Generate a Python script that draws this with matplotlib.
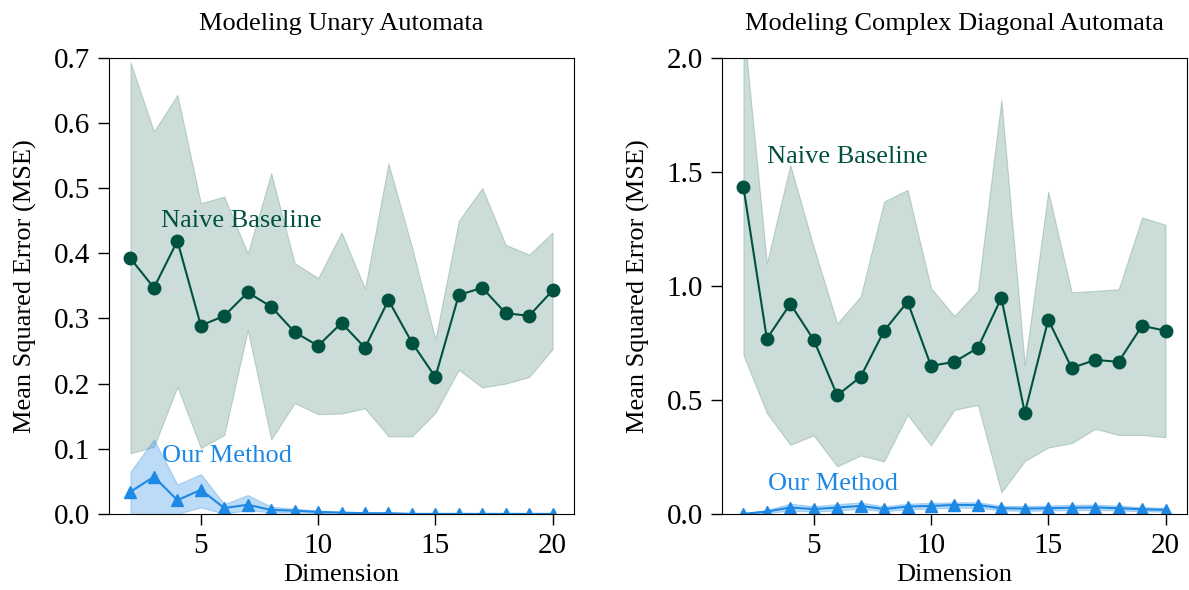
import numpy as np
import matplotlib
matplotlib.use("Agg")
import matplotlib.pyplot as plt

plt.rcParams['font.family'] = ['Liberation Serif', 'DejaVu Serif']
plt.rcParams['mathtext.fontset'] = 'stix'

dims = list(range(2, 21))

# Unary automata
unary_base = [0.392, 0.347, 0.419, 0.289, 0.304, 0.340, 0.318, 0.279, 0.258, 0.293,
              0.255, 0.328, 0.263, 0.210, 0.336, 0.347, 0.308, 0.304, 0.343]
unary_base_hi = [0.693, 0.587, 0.643, 0.477, 0.487, 0.400, 0.523, 0.385, 0.362, 0.432,
                 0.346, 0.538, 0.410, 0.268, 0.450, 0.500, 0.413, 0.398, 0.432]
unary_base_lo = [0.093, 0.103, 0.195, 0.101, 0.121, 0.282, 0.114, 0.170, 0.153, 0.154,
                 0.162, 0.119, 0.119, 0.155, 0.221, 0.194, 0.200, 0.210, 0.253]
unary_ours = [0.034, 0.057, 0.021, 0.037, 0.009, 0.014, 0.006, 0.005, 0.003, 0.002,
              0.001, 0.001, 0.000, 0.000, 0.000, 0.000, 0.000, 0.000, 0.000]
unary_ours_hi = [0.065, 0.114, 0.045, 0.061, 0.015, 0.029, 0.011, 0.008, 0.005, 0.003,
                 0.002, 0.002, 0.001, 0.001, 0.001, 0.001, 0.001, 0.001, 0.001]
unary_ours_lo = [0.000, 0.000, 0.000, 0.010, 0.000, 0.006, 0.002, 0.002, 0.001, 0.001,
                 0.000, 0.000, 0.000, 0.000, 0.000, 0.000, 0.000, 0.000, 0.000]

# Complex diagonal automata
diag_base = [1.434, 0.768, 0.921, 0.763, 0.520, 0.601, 0.803, 0.930, 0.649, 0.667,
             0.728, 0.947, 0.443, 0.851, 0.640, 0.675, 0.667, 0.825, 0.803]
diag_base_hi = [2.15, 1.10, 1.53, 1.17, 0.836, 0.953, 1.37, 1.421, 0.990, 0.868,
                0.980, 1.816, 0.653, 1.414, 0.972, 0.978, 0.985, 1.300, 1.268]
diag_base_lo = [0.697, 0.442, 0.303, 0.344, 0.208, 0.256, 0.230, 0.434, 0.300, 0.456,
                0.478, 0.094, 0.232, 0.291, 0.310, 0.373, 0.346, 0.346, 0.336]
diag_ours = [0.000, 0.010, 0.028, 0.021, 0.028, 0.035, 0.021, 0.032, 0.035, 0.039,
             0.039, 0.025, 0.023, 0.025, 0.027, 0.028, 0.025, 0.020, 0.018]
diag_ours_hi = [0.002, 0.018, 0.045, 0.034, 0.043, 0.050, 0.033, 0.045, 0.048, 0.051,
                0.051, 0.036, 0.034, 0.037, 0.040, 0.041, 0.036, 0.030, 0.027]
diag_ours_lo = [0.000, 0.004, 0.014, 0.010, 0.015, 0.022, 0.011, 0.020, 0.023, 0.027,
                0.027, 0.015, 0.013, 0.015, 0.016, 0.017, 0.015, 0.011, 0.010]

green = '#00513F'
blue = '#1E88E5'
fs = 19

fig, (ax1, ax2) = plt.subplots(1, 2, figsize=(11.89, 5.90), dpi=100)
fig.subplots_adjust(left=0.092, right=0.998, top=0.902, bottom=0.129, wspace=0.32)


def panel(ax, base, base_lo, base_hi, ours, ours_lo, ours_hi):
    ax.fill_between(dims, base_lo, base_hi, color=green, alpha=0.2, lw=0.8)
    ax.plot(dims, base, '-o', color=green, lw=1.5, ms=9)
    ax.fill_between(dims, ours_lo, ours_hi, color=blue, alpha=0.3, lw=0.8)
    ax.plot(dims, ours, '-^', color=blue, lw=1.5, ms=9)
    ax.set_xticks([5, 10, 15, 20])
    ax.tick_params(labelsize=21, direction='out', length=8, width=1, pad=6)
    ax.set_xlabel('Dimension', fontsize=fs, labelpad=3)
    ax.set_ylabel('Mean Squared Error (MSE)', fontsize=fs, labelpad=12)


panel(ax1, unary_base, unary_base_lo, unary_base_hi, unary_ours, unary_ours_lo, unary_ours_hi)
ax1.set_ylim(0, 0.7)
ax1.set_yticks(np.arange(0, 0.71, 0.1))
ax1.set_title('Modeling Unary Automata', fontsize=fs, pad=20)
ax1.text(3.3, 0.44, 'Naive Baseline', color=green, fontsize=fs)
ax1.text(3.35, 0.08, 'Our Method', color=blue, fontsize=fs)

panel(ax2, diag_base, diag_base_lo, diag_base_hi, diag_ours, diag_ours_lo, diag_ours_hi)
ax2.set_ylim(0, 2.0)
ax2.set_yticks([0.0, 0.5, 1.0, 1.5, 2.0])
ax2.set_title('Modeling Complex Diagonal Automata', fontsize=fs, pad=20)
ax2.text(3.0, 1.54, 'Naive Baseline', color=green, fontsize=fs)
ax2.text(3.05, 0.105, 'Our Method', color=blue, fontsize=fs)

for ax in (ax1, ax2):
    ax.set_xlim(1.1, 20.9)
    ax.yaxis.set_major_formatter(matplotlib.ticker.FormatStrFormatter('%.1f'))

fig.savefig('out.png', dpi=100)
